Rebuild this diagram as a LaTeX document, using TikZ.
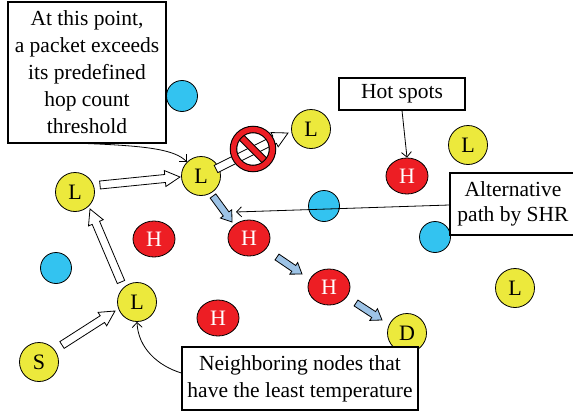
\documentclass[tikz,border=0pt]{standalone}
\usepackage{fontspec}
\setmainfont{Liberation Serif}
\usetikzlibrary{calc,arrows.meta,shapes.geometric}
\definecolor{ylw}{RGB}{236,233,60}
\definecolor{hred}{RGB}{237,30,36}
\definecolor{cyn}{RGB}{51,195,240}
\definecolor{lblue}{RGB}{157,195,230}
% block arrow: tail, tip, fill, half shaft, half head, head length
\newcommand\blockarr[6]{%
  \coordinate (nk) at ($(#2)!#6!(#1)$);
  \draw[fill=#3, line width=0.8pt, line join=miter]
    ($(#1)!#4!90:(#2)$) -- ($(nk)!#4!-90:(#1)$) -- ($(nk)!#5!-90:(#1)$) -- (#2)
    -- ($(nk)!#5!90:(#1)$) -- ($(nk)!#4!90:(#1)$) -- ($(#1)!#4!-90:(#2)$) -- cycle;}
\begin{document}
\begin{tikzpicture}[x=1pt,y=-1pt,
  every node/.style={font=\fontsize{21.5}{27}\selectfont},
  ynode/.style={circle,draw,line width=0.8pt,fill=ylw,minimum size=39pt,inner sep=0pt,font=\fontsize{22}{22}\selectfont},
  hnode/.style={ellipse,draw,line width=0.8pt,fill=hred,text=white,minimum width=42pt,minimum height=36pt,inner sep=0pt,font=\fontsize{22}{22}\selectfont},
  bnode/.style={circle,draw,line width=0.8pt,fill=cyn,minimum size=31pt,inner sep=0pt},
  lbox/.style={draw,fill=white,line width=1.1pt,align=center,inner sep=0pt},
  conn/.style={line width=0.8pt,-{Straight Barb[length=5pt,width=10pt]}}]
\useasboundingbox (0,0) rectangle (573,415);
% blue nodes
\node[bnode] (b1) at (182,96) {};
\node[bnode] (b2) at (324,206) {};
\node[bnode] (b3) at (435,237) {};
\node[bnode] (b4) at (56,268) {};
% yellow nodes
\node[ynode] (Lc) at (201,176) {L};
\node[ynode] (Lu) at (311,129) {L};
\node[ynode] (Lr) at (468,145) {L};
\node[ynode] (Ll) at (75,192) {L};
\node[ynode] (Lb) at (137,302) {L};
\node[ynode] (Lf) at (515,288) {L};
\node[ynode] (S) at (39,362) {S};
\node[ynode] (D) at (407,333) {D};
% red nodes
\node[hnode] (Hh) at (407,176) {H};
\node[hnode] (Hl) at (154,239) {H};
\node[hnode] (Hm) at (249,238) {H};
\node[hnode] (Hr) at (329,287) {H};
\node[hnode] (Hb) at (218,318) {H};
% white block arrows
\coordinate (w1a) at (62,345); \coordinate (w1b) at (115,311);
\coordinate (w2a) at (121,282); \coordinate (w2b) at (90,209);
\coordinate (w3a) at (100,185); \coordinate (w3b) at (180,177);
\coordinate (w4a) at (216,169); \coordinate (w4b) at (288,133);
\blockarr{w1a}{w1b}{white}{4pt}{8pt}{15pt}
\blockarr{w2a}{w2b}{white}{4pt}{8pt}{15pt}
\blockarr{w3a}{w3b}{white}{4pt}{8pt}{15pt}
\blockarr{w4a}{w4b}{white}{4pt}{8pt}{15pt}
% prohibition sign
\node[circle,minimum size=46pt,inner sep=0pt] (nosign) at (253,149) {};
\draw[black,line width=7.5pt] ($(nosign)+(-14,-14)$) -- ($(nosign)+(14,14)$);
\draw[hred,line width=5.5pt] ($(nosign)+(-14.5,-14.5)$) -- ($(nosign)+(14.5,14.5)$);
\draw[black,line width=7.5pt] (nosign) circle (19.5pt);
\draw[hred,line width=5.3pt] (nosign) circle (19.5pt);
% blue block arrows
\coordinate (u1a) at (213,196); \coordinate (u1b) at (232,222);
\coordinate (u2a) at (277,257); \coordinate (u2b) at (302,274);
\coordinate (u3a) at (356,303); \coordinate (u3b) at (382,320);
\blockarr{u1a}{u1b}{lblue}{3.5pt}{7pt}{10pt}
\blockarr{u2a}{u2b}{lblue}{3.5pt}{7pt}{10pt}
\blockarr{u3a}{u3b}{lblue}{3.5pt}{7pt}{10pt}
% boxes
\node[lbox,minimum width=158pt,minimum height=141pt] (call) at (87,72.5)
  {At this point,\\a packet exceeds\\its predefined\\hop count\\threshold};
\node[lbox,minimum width=126pt,minimum height=32pt] (hot) at (402,94) {Hot spots};
\node[lbox,minimum width=126pt,minimum height=62pt,font=\fontsize{21.5}{25}\selectfont] (alt) at (513,204)
  {Alternative\\path by SHR};
\node[lbox,minimum width=236pt,minimum height=63pt] (nb) at (300,378.5)
  {Neighboring nodes that\\have the least temperature};
% connectors
\coordinate (altend) at (236,212);
\draw[conn] (call.south) .. controls (150,146) and (175,150) .. (Lc.135);
\draw[conn] (hot.south) -- (Hh.north);
\draw[conn] (alt.west |- 0,205) -- (altend);
\draw[conn] (nb.west |- 0,373) .. controls (158,366) and (138,348) .. (Lb.south);
\end{tikzpicture}
\end{document}
